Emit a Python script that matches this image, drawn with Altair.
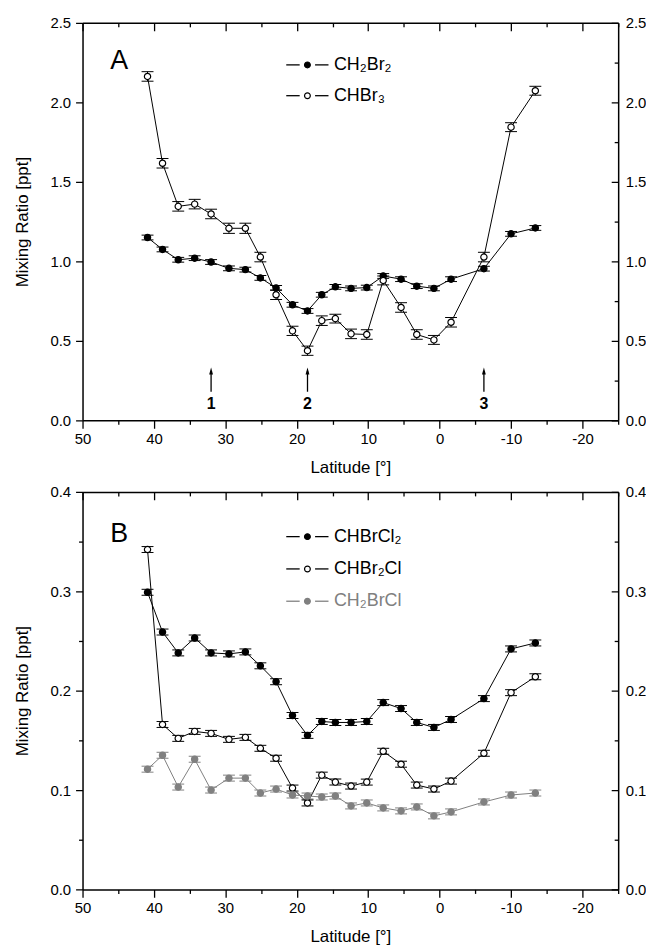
import altair as alt
import pandas as pd

# ---------------- data ----------------
latitude = [40.9, 38.8, 36.6, 34.3, 32.0, 29.5, 27.2, 25.1, 22.9, 20.6, 18.5, 16.5,
            14.6, 12.4, 10.2, 7.9, 5.4, 3.2, 0.8, -1.6, -6.2, -10.0, -13.4]

# Panel A
ch2br2 = [1.150, 1.075, 1.010, 1.020, 0.996, 0.956, 0.948, 0.896, 0.833, 0.727, 0.688, 0.790,
          0.840, 0.830, 0.835, 0.908, 0.888, 0.844, 0.830, 0.888, 0.954, 1.173, 1.210]
ch2br2_err = [0.015] * 23
chbr3 = [2.163, 1.617, 1.346, 1.360, 1.298, 1.208, 1.208, 1.027, 0.790, 0.563, 0.438, 0.627,
         0.640, 0.544, 0.540, 0.880, 0.710, 0.540, 0.506, 0.617, 1.027, 1.844, 2.073]
chbr3_err = [0.030, 0.030, 0.030, 0.030, 0.030, 0.032, 0.032, 0.030, 0.030, 0.029, 0.029, 0.030,
             0.028, 0.030, 0.030, 0.028, 0.030, 0.030, 0.028, 0.030, 0.030, 0.028, 0.028]

# Panel B
chbrcl2 = [0.299, 0.259, 0.238, 0.253, 0.238, 0.237, 0.239, 0.225, 0.209, 0.175, 0.155, 0.169,
           0.168, 0.168, 0.169, 0.188, 0.182, 0.168, 0.163, 0.171, 0.192, 0.242, 0.248]
chbrcl2_err = [0.003] * 23
chbr2cl = [0.342, 0.166, 0.152, 0.159, 0.157, 0.151, 0.153, 0.142, 0.132, 0.102, 0.087, 0.115,
           0.108, 0.104, 0.108, 0.139, 0.126, 0.105, 0.101, 0.109, 0.137, 0.198, 0.214]
chbr2cl_err = [0.003] * 23
ch2brcl = [0.121, 0.135, 0.103, 0.131, 0.100, 0.112, 0.112, 0.097, 0.101, 0.095, 0.094, 0.093,
           0.094, 0.084, 0.087, 0.082, 0.079, 0.083, 0.074, 0.078, 0.088, 0.095, 0.097]
ch2brcl_err = [0.003] * 23

names_a = ["CH₂Br₂", "CHBr₃"]
names_b = ["CHBrCl₂", "CHBr₂Cl", "CH₂BrCl"]

arrow_lat = [32.0, 18.5, -6.2]
arrow_text = ["1", "2", "3"]

x_ticks = list(range(50, -30, -5))

# ---------------- styling ----------------
FONT = "Liberation Sans, Arial, sans-serif"
BLACK = "#000000"
GRAY = "#808080"
WHITE = "#ffffff"
strokes_a, fills_a = [BLACK, BLACK], [BLACK, WHITE]
strokes_b, fills_b = [BLACK, BLACK, GRAY], [BLACK, WHITE, GRAY]
ARROW = "M0,-1L0.55,1L-0.55,1Z"


def to_long(names, values, errs):
    rows = []
    for n, v, e in zip(names, values, errs):
        for la, vv, ee in zip(latitude, v, e):
            rows.append({"series": n, "lat": la, "val": vv, "lo": vv - ee, "hi": vv + ee})
    return pd.DataFrame(rows)


def dash(test):
    return {"condition": {"test": test, "value": [4, 40]}, "value": [1, 0]}


common_axis = dict(grid=False, domainColor=BLACK, tickColor=BLACK, labelColor=BLACK,
                   titleColor=BLACK, domainWidth=1.5, tickWidth=1.3, labelFont=FONT,
                   titleFont=FONT, labelFontSize=15, titleFontSize=17,
                   titleFontWeight="normal", labelFlush=False, labelOverlap=False)

x_minor = "datum.value % 10 != 0"
x_label = "datum.value % 10 == 0 ? '' + datum.value : ''"


def panel(df, names, strokes, fills, ymax, ystep, ylab, letter, letter_y,
          leg_rows, arrows=False):
    yvals = [round(i * ystep, 3) for i in range(int(round(ymax / ystep)) + 1)]
    y_minor = f"abs(datum.value/{ylab} - round(datum.value/{ylab})) > 0.001"
    y_label = (f"abs(datum.value/{ylab} - round(datum.value/{ylab})) < 0.001"
               " ? format(datum.value, '.1f') : ''")

    xscale = alt.Scale(domain=[-25, 50], reverse=True, nice=False, zero=False)
    yscale = alt.Scale(domain=[0, ymax], nice=False)

    bottom_axis = alt.Axis(orient="bottom", values=x_ticks, labelExpr=x_label, tickSize=8,
                           tickDash=dash(x_minor), title="Latitude [°]", labelPadding=3,
                           titlePadding=13, **common_axis)
    top_axis = alt.Axis(orient="top", values=x_ticks, labels=False, tickSize={"expr": "-8"},
                        tickDash=dash(x_minor), title=None, **common_axis)
    left_axis = alt.Axis(orient="left", values=yvals, labelExpr=y_label, tickSize=7,
                         tickDash=dash(y_minor), title="Mixing Ratio [ppt]", labelPadding=5,
                         titlePadding=19, **common_axis)
    right_axis = alt.Axis(orient="right", values=yvals, labelExpr=y_label,
                          tickSize={"expr": "-7"}, tickDash=dash(y_minor), title=None,
                          labelPadding=14, **common_axis)

    X = alt.X("lat:Q", scale=xscale, axis=bottom_axis)
    Yv = alt.Y("val:Q", scale=yscale, axis=left_axis)

    S = alt.Stroke("series:N", scale=alt.Scale(domain=names, range=strokes), legend=None)
    F = alt.Fill("series:N", scale=alt.Scale(domain=names, range=fills), legend=None)
    C = alt.Color("series:N", scale=alt.Scale(domain=names, range=strokes), legend=None)

    base = alt.Chart(df)
    line = base.mark_line(strokeWidth=1).encode(x=X, y=Yv, color=C)
    rule = base.mark_rule(strokeWidth=1).encode(
        x=X, y=alt.Y("lo:Q", scale=yscale, axis=left_axis), y2="hi:Q", color=C)
    cap_lo = base.mark_tick(orient="horizontal", size=12, thickness=1, opacity=1).encode(
        x=X, y=alt.Y("lo:Q", scale=yscale, axis=left_axis), color=C)
    cap_hi = base.mark_tick(orient="horizontal", size=12, thickness=1, opacity=1).encode(
        x=X, y=alt.Y("hi:Q", scale=yscale, axis=left_axis), color=C)
    pts = base.mark_point(size=40, strokeWidth=1.2, opacity=1).encode(
        x=X, y=Yv, stroke=S, fill=F)

    layers = [line, rule, cap_lo, cap_hi]

    if arrows:
        adf = pd.DataFrame({"lat": arrow_lat, "label": arrow_text})
        abase = alt.Chart(adf)
        layers.append(abase.mark_rule(strokeWidth=1.3, color=BLACK).encode(
            x=X, y=alt.datum(0.18), y2=alt.datum(0.31)))
        layers.append(abase.mark_point(shape=ARROW, filled=True, size=49, color=BLACK,
                                       opacity=1).encode(x=X, y=alt.datum(0.311)))
        layers.append(abase.mark_text(font=FONT, fontSize=16, fontWeight="bold",
                                      baseline="middle", color=BLACK).encode(
            x=X, y=alt.datum(0.1), text="label:N"))

    letter_chart = alt.Chart(pd.DataFrame({"t": [letter]})).mark_text(
        font=FONT, fontSize=27, align="left", baseline="alphabetic", color=BLACK
    ).encode(text="t:N", x=alt.value(28), y=alt.value(letter_y))
    layers.append(letter_chart)
    layers.append(pts)

    inner = alt.layer(*layers)
    axis_layer = base.mark_point(opacity=0).encode(
        x=alt.X("lat:Q", scale=xscale, axis=top_axis),
        y=alt.Y("val:Q", scale=yscale, axis=right_axis))

    # legend (line - marker - line, label) built from the series names
    ldf = pd.DataFrame({"series": names, "row": list(range(len(names)))})
    lbase = alt.Chart(ldf)
    LY = alt.Y("row:Q", scale=alt.Scale(domain=[0, len(names) - 1], range=leg_rows,
                                        nice=False, zero=False), axis=None)
    seg_l = lbase.mark_rule(strokeWidth=1.3).encode(
        x=alt.value(205), x2=alt.value(218.5), y=LY, color=C)
    seg_r = lbase.mark_rule(strokeWidth=1.3).encode(
        x=alt.value(234), x2=alt.value(247.5), y=LY, color=C)
    sym = lbase.mark_point(size=34, strokeWidth=1.2, opacity=1).encode(
        x=alt.value(226.3), y=LY, stroke=S, fill=F)
    lab = lbase.mark_text(font=FONT, fontSize=18, align="left", baseline="middle").encode(
        x=alt.value(253), y=LY, text="series:N", color=C)
    legend_layer = alt.layer(seg_l, seg_r, sym, lab)

    return alt.layer(inner, axis_layer, legend_layer).resolve_axis(
        x="independent", y="independent").resolve_scale(
        x="independent", y="independent").properties(width=539, height=400)


df_a = to_long(names_a, [ch2br2, chbr3], [ch2br2_err, chbr3_err])
df_b = to_long(names_b, [chbrcl2, chbr2cl, ch2brcl], [chbrcl2_err, chbr2cl_err, ch2brcl_err])

panel_a = panel(df_a, names_a, strokes_a, fills_a, 2.5, 0.25, 0.5, "A", 46,
                [42.3, 73.3], arrows=True)
panel_b = panel(df_b, names_b, strokes_b, fills_b, 0.4, 0.05, 0.1,
                "B", 50, [45, 110])

chart = alt.vconcat(panel_a, panel_b, spacing=10).resolve_scale(
    stroke="independent", fill="independent", color="independent"
).configure_view(stroke=None).properties(
    padding={"left": 5, "top": 5, "right": 0, "bottom": 0}, background="white")

chart.save("out.html", embed_options={"renderer": "svg", "actions": False})
